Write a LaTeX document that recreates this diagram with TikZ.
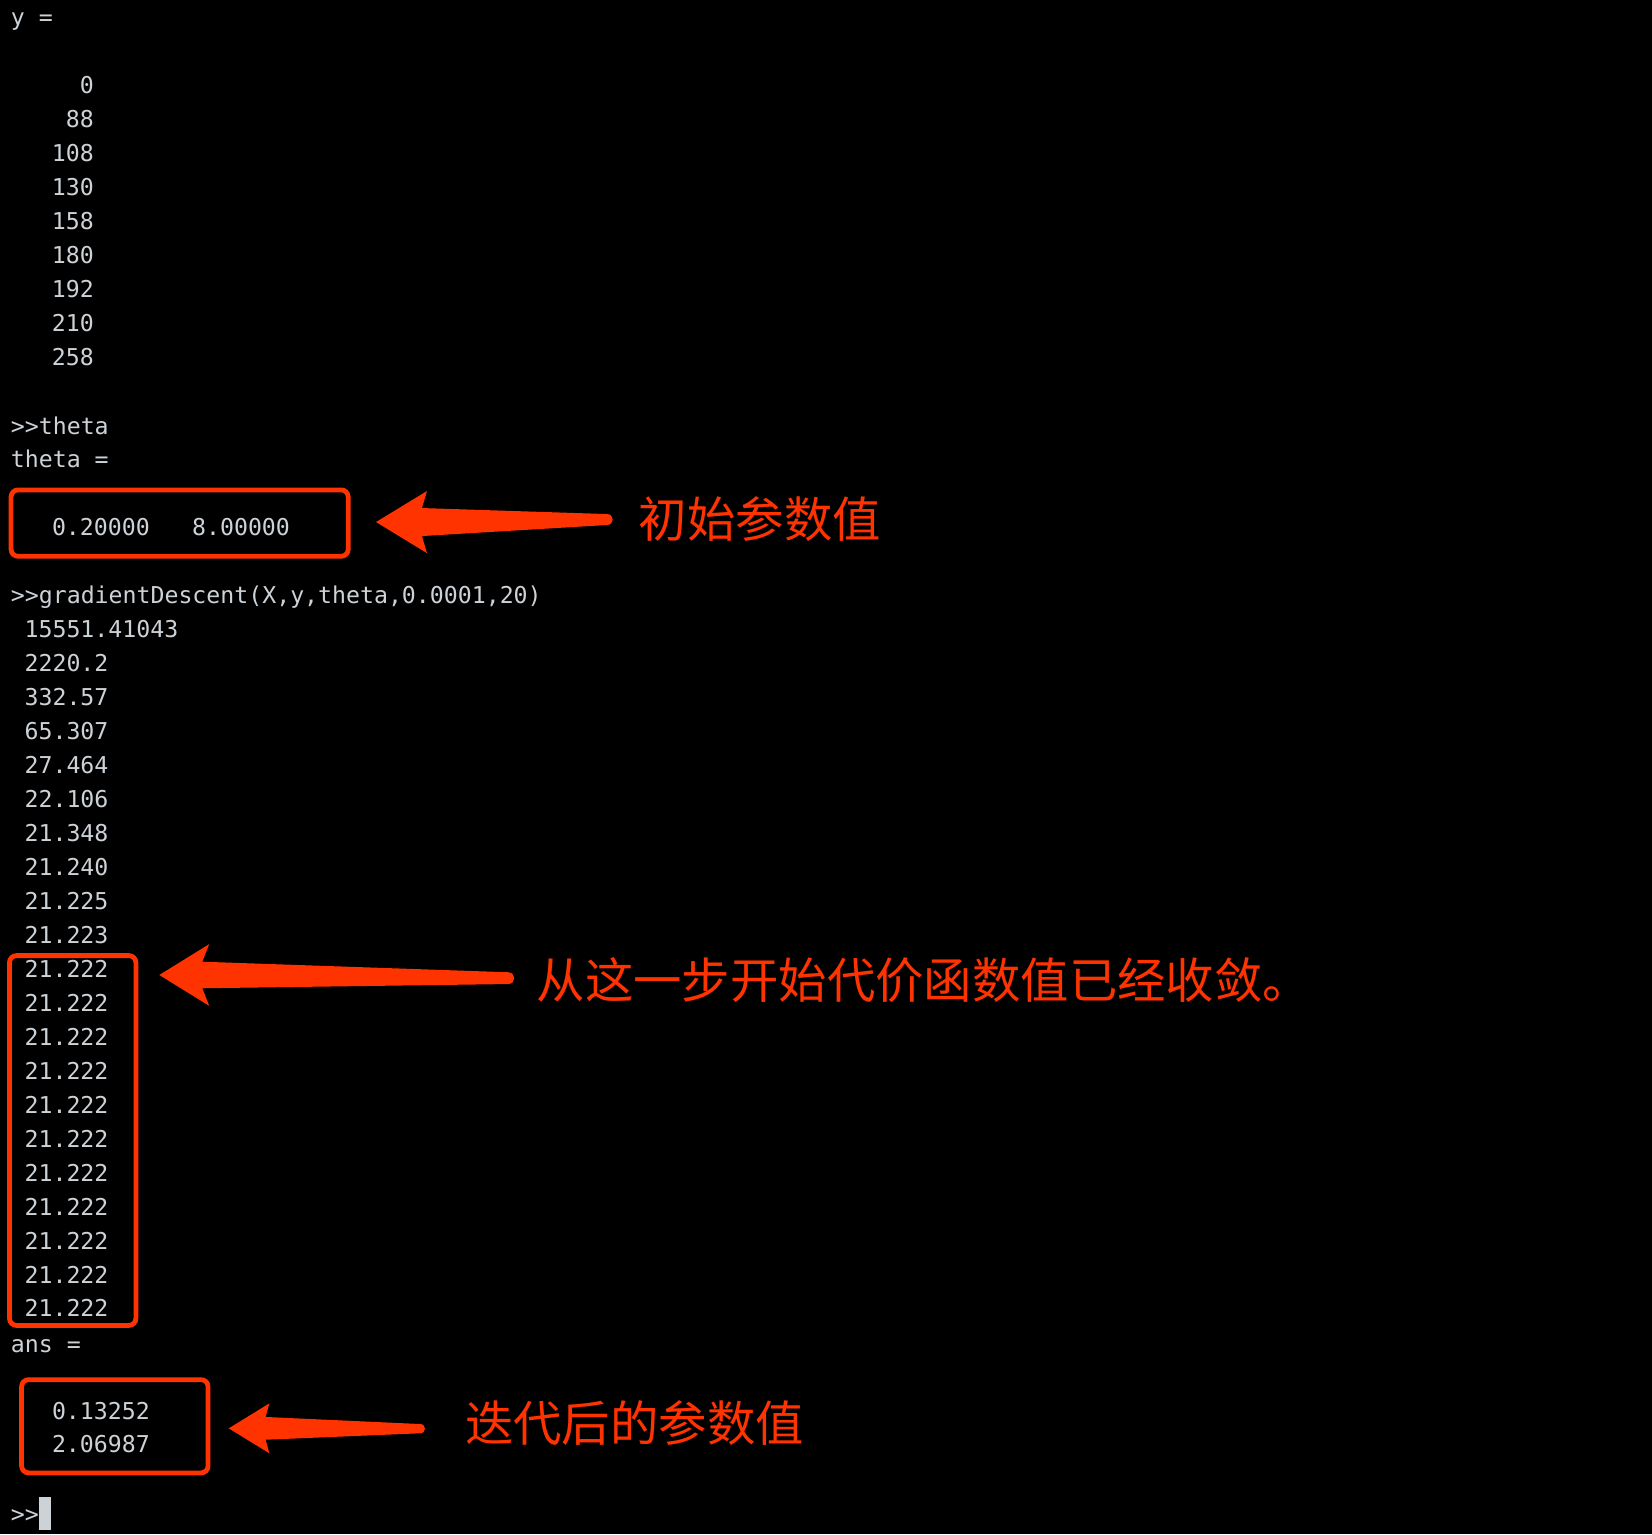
\documentclass[tikz,border=0pt]{standalone}
\usepackage{fontspec}
\setmonofont{DejaVu Sans Mono}
\newfontfamily\cjk{Noto Sans CJK SC}
\usetikzlibrary{positioning,calc}
\definecolor{termbg}{RGB}{0,0,0}
\definecolor{termfg}{RGB}{205,210,215}
\definecolor{markred}{RGB}{255,51,0}
\tikzset{
    term/.style={text=termfg, inner sep=0pt, anchor=base west,
        font=\ttfamily\fontsize{11.6}{14}\selectfont},
    termnum/.style={term, anchor=base east},
    markbox/.style={draw=markred, line width=2.4pt, rounded corners=3.5pt},
    marklabel/.style={text=markred, inner sep=0pt, anchor=west,
        font=\cjk\fontsize{24.2}{28}\selectfont},
    markfill/.style={fill=markred}
}
% #1 tip, #2 tail, #3/#4 barb offset and half height, #5/#6 neck, #7 tail half height
\newcommand\markarrow[7]{%
  \fill[markfill] (#1) -- ($(#1)+(#3,-#4)$) -- ($(#1)+(#5,-#6)$)
    -- ($(#2)+(0,-#7)$) .. controls +(1.4*#7,0) and +(1.4*#7,0) .. ($(#2)+(0,#7)$)
    -- ($(#1)+(#5,#6)$) -- ($(#1)+(#3,#4)$) -- cycle;}

\begin{document}
\begin{tikzpicture}[x=0.5268pt,y=-0.5268pt]

\fill[termbg] (0,0) rectangle (1568,1456);

% y vector
\node[term] (yhead) at (10,24) {y =};
\foreach \v [count=\i from 0] in {0,88,108,130,158,180,192,210,258}
    \node[termnum] (yval\i) at (89.5,88.5+32.3*\i) {\v};

% theta
\node[term] (prompt1) at (10,412) {>{}>theta};
\node[term] (thetahead) at (10,444) {theta =};
\node[term] (thetaA) at (49,508) {0.20000};
\node[term] (thetaB) at (182,508) {8.00000};
\draw[markbox] (10.5,465) rectangle (330.5,528);

% gradient descent
\node[term] (prompt2) at (10,573) {>{}>gradientDescent(X,y,theta,0.0001,20)};
\foreach \v [count=\i from 0] in {15551.41043,2220.2,332.57,65.307,27.464,22.106,
        21.348,21.240,21.225,21.223,21.222,21.222,21.222,21.222,21.222,21.222,
        21.222,21.222,21.222,21.222,21.222}
    \node[term] (cost\i) at (23,605+32.25*\i) {\v};
\draw[markbox] (9,907) rectangle (129,1258);

% result
\node[term] (anshead) at (10,1284) {ans =};
\node[term] (ansA) at (49,1347) {0.13252};
\node[term] (ansB) at (49,1379) {2.06987};
\draw[markbox] (20.5,1309.5) rectangle (197.5,1398);

\node[term] (prompt3) at (10,1445) {>{}>};
\fill[termfg] (37,1421) rectangle (48,1452);

% callouts
\coordinate (tipA) at (356.9,495.5);
\coordinate (tailA) at (576.1,493.1);
\markarrow{tipA}{tailA}{48.4}{29.5}{43.6}{13.3}{5.2}
\node[marklabel] (noteA) at (606,493) {初始参数值};

\coordinate (tipB) at (151.2,925.4);
\coordinate (tailB) at (482.2,928.4);
\markarrow{tipB}{tailB}{47.4}{29.3}{40.8}{12.6}{5.6}
\node[marklabel] (noteB) at (509,930.5) {从这一步开始代价函数值已经收敛。};

\coordinate (tipC) at (217.1,1355.7);
\coordinate (tailC) at (398.7,1356);
\markarrow{tipC}{tailC}{38.6}{23.7}{35}{10.8}{4.4}
\node[marklabel] (noteC) at (441,1351) {迭代后的参数值};

\end{tikzpicture}
\end{document}
